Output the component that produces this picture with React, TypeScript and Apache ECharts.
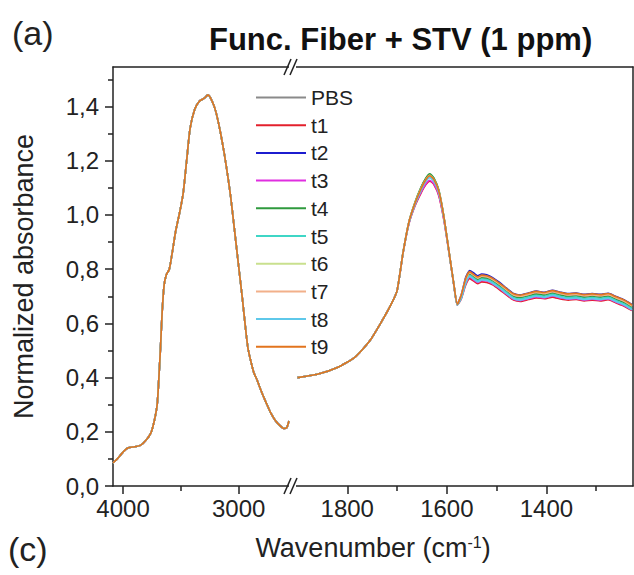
import React, { useEffect, useRef } from "react";
import * as echarts from "echarts";

const FONT = "'Liberation Sans', Arial, sans-serif";

const seriesNames = ["PBS", "t1", "t2", "t3", "t4", "t5", "t6", "t7", "t8", "t9"];
const seriesColors = ["#8a8a8a", "#e3202c", "#1c1ccf", "#e02ee0", "#2f9a3e", "#3fd6c6", "#c9e08e", "#f2b08a", "#5ec8ea", "#e2741e"];

// high-wavenumber panel (all runs overlap)
const leftWn = [4087, 4050, 4000, 3960, 3900, 3850, 3800, 3760, 3730, 3705, 3690, 3675, 3662, 3645, 3625, 3600, 3575, 3545, 3510, 3480, 3450, 3420, 3380, 3340, 3300, 3265, 3230, 3200, 3165, 3130, 3100, 3070, 3040, 3000, 2970, 2940, 2920, 2900, 2870, 2840, 2800, 2760, 2720, 2680, 2640, 2610, 2585, 2565];
const leftAbs = [0.085, 0.1, 0.125, 0.14, 0.145, 0.15, 0.17, 0.195, 0.24, 0.3, 0.4, 0.52, 0.64, 0.74, 0.78, 0.8, 0.86, 0.94, 1.01, 1.08, 1.2, 1.32, 1.39, 1.42, 1.43, 1.443, 1.42, 1.385, 1.32, 1.24, 1.16, 1.07, 0.96, 0.81, 0.7, 0.58, 0.51, 0.47, 0.42, 0.39, 0.345, 0.305, 0.268, 0.24, 0.222, 0.212, 0.215, 0.24];

// fingerprint panel
const rightWn = [1900, 1860, 1820, 1785, 1755, 1730, 1712, 1700, 1688, 1676, 1664, 1652, 1642, 1634, 1626, 1616, 1606, 1596, 1586, 1579, 1571, 1562, 1554, 1546, 1538, 1530, 1520, 1508, 1494, 1480, 1466, 1452, 1436, 1420, 1404, 1388, 1372, 1356, 1340, 1324, 1308, 1292, 1276, 1260, 1244, 1228];
const rPBS = [0.400,0.412,0.437,0.475,0.535,0.610,0.670,0.720,0.860,0.975,1.045,1.100,1.135,1.150,1.135,1.090,0.995,0.870,0.745,0.670,0.700,0.760,0.785,0.775,0.765,0.772,0.770,0.760,0.742,0.722,0.703,0.698,0.705,0.712,0.708,0.715,0.708,0.703,0.705,0.700,0.703,0.700,0.704,0.692,0.680,0.662];
const rT1 = [0.400,0.412,0.437,0.475,0.535,0.610,0.670,0.720,0.858,0.968,1.033,1.080,1.112,1.125,1.112,1.070,0.982,0.865,0.742,0.668,0.690,0.742,0.765,0.756,0.746,0.753,0.751,0.742,0.724,0.704,0.686,0.681,0.688,0.694,0.691,0.697,0.690,0.686,0.688,0.683,0.686,0.683,0.687,0.675,0.663,0.647];
const rT2 = [0.400,0.412,0.437,0.475,0.535,0.610,0.670,0.720,0.860,0.973,1.041,1.094,1.128,1.142,1.128,1.085,0.992,0.869,0.746,0.672,0.706,0.770,0.795,0.786,0.776,0.782,0.779,0.769,0.751,0.730,0.710,0.705,0.712,0.719,0.715,0.722,0.715,0.710,0.712,0.707,0.710,0.707,0.711,0.699,0.687,0.669];
const rT3 = [0.400,0.412,0.437,0.475,0.535,0.610,0.670,0.720,0.858,0.969,1.035,1.083,1.115,1.128,1.115,1.073,0.984,0.866,0.743,0.668,0.693,0.747,0.771,0.761,0.751,0.758,0.756,0.746,0.728,0.708,0.689,0.684,0.691,0.698,0.694,0.701,0.694,0.689,0.691,0.686,0.689,0.686,0.690,0.678,0.666,0.649];
const rT4 = [0.400,0.412,0.437,0.475,0.535,0.610,0.670,0.720,0.861,0.976,1.047,1.102,1.137,1.152,1.137,1.092,0.996,0.870,0.745,0.669,0.698,0.756,0.781,0.771,0.761,0.768,0.766,0.756,0.738,0.718,0.699,0.694,0.701,0.708,0.704,0.711,0.704,0.699,0.701,0.696,0.699,0.696,0.700,0.688,0.676,0.658];
const rT5 = [0.400,0.412,0.437,0.475,0.535,0.610,0.670,0.720,0.859,0.972,1.040,1.092,1.126,1.140,1.126,1.083,0.990,0.868,0.744,0.669,0.695,0.752,0.777,0.767,0.757,0.764,0.762,0.752,0.734,0.714,0.695,0.690,0.697,0.704,0.700,0.707,0.700,0.695,0.697,0.692,0.695,0.692,0.696,0.684,0.672,0.655];
const rT6 = [0.400,0.412,0.437,0.475,0.535,0.610,0.670,0.720,0.860,0.974,1.043,1.097,1.131,1.146,1.131,1.087,0.994,0.870,0.746,0.671,0.703,0.764,0.789,0.779,0.769,0.776,0.774,0.764,0.746,0.726,0.707,0.702,0.709,0.716,0.712,0.719,0.712,0.707,0.709,0.704,0.707,0.704,0.708,0.696,0.684,0.666];
const rT7 = [0.400,0.412,0.437,0.475,0.535,0.610,0.670,0.720,0.860,0.974,1.042,1.096,1.130,1.144,1.130,1.086,0.993,0.869,0.745,0.670,0.702,0.762,0.787,0.777,0.767,0.774,0.772,0.762,0.744,0.724,0.705,0.700,0.707,0.714,0.710,0.717,0.710,0.705,0.707,0.702,0.705,0.702,0.706,0.694,0.682,0.664];
const rT8 = [0.400,0.412,0.437,0.475,0.535,0.610,0.670,0.720,0.859,0.971,1.039,1.090,1.124,1.138,1.124,1.081,0.989,0.867,0.744,0.668,0.692,0.748,0.773,0.763,0.753,0.760,0.758,0.748,0.730,0.710,0.691,0.686,0.693,0.700,0.696,0.703,0.696,0.691,0.693,0.688,0.691,0.688,0.692,0.680,0.668,0.650];
const rT9 = [0.400,0.412,0.437,0.475,0.535,0.610,0.670,0.720,0.860,0.974,1.043,1.096,1.131,1.145,1.131,1.087,0.994,0.870,0.746,0.671,0.704,0.766,0.791,0.781,0.771,0.778,0.776,0.766,0.748,0.728,0.709,0.704,0.711,0.718,0.714,0.721,0.714,0.709,0.711,0.706,0.709,0.706,0.710,0.698,0.686,0.668];
const rightSets = [rPBS, rT1, rT2, rT3, rT4, rT5, rT6, rT7, rT8, rT9];

const leftMajorTicks = [3000, 4000];
const leftMinorTicks = [3500];
const rightMajorTicks = [1400, 1600, 1800];
const rightMinorTicks = [1300, 1500, 1700];
const yMajorTicks = [0, 0.2, 0.4, 0.6, 0.8, 1.0, 1.2, 1.4];
const yMinorTicks = [0.1, 0.3, 0.5, 0.7, 0.9, 1.1, 1.3, 1.5];

const LEFT_MIN = 2530, LEFT_MAX = 4087;
const RIGHT_MIN = 1226, RIGHT_MAX = 1909;
const Y_MIN = 0, Y_MAX = 1.546;
const AXIS_COLOR = "#222";

export default function App() {
  const ref = useRef<HTMLDivElement>(null);
  useEffect(() => {
    if (!ref.current) return;
    const chart = echarts.init(ref.current, null, { renderer: "svg" });
    const lineAxis = { show: true, lineStyle: { color: AXIS_COLOR, width: 1.5 } };
    const xBase = (gridIndex: number, min: number, max: number) => ({
      type: "value", gridIndex, min, max, inverse: true, splitLine: { show: false },
    });
    const xLabel = (vals: number[]) => ({ show: true, customValues: vals, fontSize: 24, fontFamily: FONT, color: "#222", margin: 10,
      formatter: (v: number) => String(Math.round(v)) });
    const xAxes = [
      { ...xBase(0, LEFT_MIN, LEFT_MAX), position: "bottom", axisLine: lineAxis,
        axisTick: { show: true, customValues: leftMajorTicks, length: 8, lineStyle: { color: AXIS_COLOR, width: 1.5 } },
        axisLabel: xLabel(leftMajorTicks) },
      { ...xBase(0, LEFT_MIN, LEFT_MAX), position: "bottom", axisLine: { show: false },
        axisTick: { show: true, customValues: leftMinorTicks, length: 5, lineStyle: { color: AXIS_COLOR, width: 1.5 } },
        axisLabel: { show: false } },
      { ...xBase(0, LEFT_MIN, LEFT_MAX), position: "top", axisLine: lineAxis, axisTick: { show: false }, axisLabel: { show: false } },
      { ...xBase(1, RIGHT_MIN, RIGHT_MAX), position: "bottom", axisLine: lineAxis,
        axisTick: { show: true, customValues: rightMajorTicks, length: 8, lineStyle: { color: AXIS_COLOR, width: 1.5 } },
        axisLabel: xLabel(rightMajorTicks) },
      { ...xBase(1, RIGHT_MIN, RIGHT_MAX), position: "bottom", axisLine: { show: false },
        axisTick: { show: true, customValues: rightMinorTicks, length: 5, lineStyle: { color: AXIS_COLOR, width: 1.5 } },
        axisLabel: { show: false } },
      { ...xBase(1, RIGHT_MIN, RIGHT_MAX), position: "top", axisLine: lineAxis, axisTick: { show: false }, axisLabel: { show: false } },
    ];
    const yAxes = [
      { type: "value", gridIndex: 0, min: Y_MIN, max: Y_MAX, position: "left", axisLine: lineAxis, splitLine: { show: false },
        axisTick: { show: true, customValues: yMajorTicks, length: 8, lineStyle: { color: AXIS_COLOR, width: 1.5 } },
        axisLabel: { show: true, customValues: yMajorTicks, fontSize: 24, fontFamily: FONT, color: "#222", margin: 14,
          formatter: (v: number) => v.toFixed(1).replace(".", ",") },
        name: "Normalized absorbance", nameLocation: "middle", nameGap: 76,
        nameTextStyle: { fontSize: 27, fontFamily: FONT, color: "#222" } },
      { type: "value", gridIndex: 0, min: Y_MIN, max: Y_MAX, position: "left", axisLine: { show: false }, splitLine: { show: false },
        axisTick: { show: true, customValues: yMinorTicks, length: 5, lineStyle: { color: AXIS_COLOR, width: 1.5 } },
        axisLabel: { show: false } },
      { type: "value", gridIndex: 1, min: Y_MIN, max: Y_MAX, position: "right", axisLine: lineAxis, splitLine: { show: false },
        axisTick: { show: false }, axisLabel: { show: false } },
    ];
    const series: any[] = [];
    seriesNames.forEach((name, i) => {
      series.push({
        name, type: "line", xAxisIndex: 0, yAxisIndex: 0, symbol: "none", silent: true, smooth: 0.25,
        lineStyle: { width: 1.6, color: seriesColors[i] }, itemStyle: { color: seriesColors[i] },
        data: leftWn.map((w, k) => [w, leftAbs[k]]),
      });
    });
    seriesNames.forEach((name, i) => {
      series.push({
        name, type: "line", xAxisIndex: 3, yAxisIndex: 2, symbol: "none", silent: true, smooth: 0.2,
        lineStyle: { width: 1.6, color: seriesColors[i] }, itemStyle: { color: seriesColors[i] },
        data: rightWn.map((w, k) => [w, rightSets[i][k]]),
      });
    });
    const breakMark = (yc: number) => [
      { type: "rect", z: 100, shape: { x: 289, y: yc - 5, width: 7, height: 10 }, style: { fill: "#fff" } },
      { type: "line", z: 101, shape: { x1: 284, y1: yc + 8, x2: 291, y2: yc - 8 }, style: { stroke: AXIS_COLOR, lineWidth: 1.5 } },
      { type: "line", z: 101, shape: { x1: 290, y1: yc + 8, x2: 297, y2: yc - 8 }, style: { stroke: AXIS_COLOR, lineWidth: 1.5 } },
    ];
    chart.setOption({
      animation: false,
      backgroundColor: "#fff",
      title: { text: "Func. Fiber + STV (1 ppm)", left: 204, top: 19,
        textStyle: { fontFamily: FONT, fontSize: 31, fontWeight: "bold", color: "#111" } },
      legend: { orient: "vertical", left: 251, top: 82, itemWidth: 50, itemHeight: 2, itemGap: 6.7, icon: "rect",
        data: seriesNames, selectedMode: false,
        textStyle: { fontFamily: FONT, fontSize: 21, lineHeight: 20, color: "#222" } },
      grid: [
        { left: 113, top: 67, width: 180, height: 419 },
        { left: 293, top: 67, width: 340, height: 419 },
      ],
      xAxis: xAxes,
      yAxis: yAxes,
      series,
      graphic: [
        ...breakMark(486),
        ...breakMark(67),
        { type: "text", z: 100, x: 373, y: 548, style: { text: "Wavenumber (cm{sup|-1})", fontFamily: FONT, fontSize: 27, fill: "#222",
            align: "center", verticalAlign: "middle",
            rich: { sup: { fontSize: 16, fontFamily: FONT, fill: "#222", verticalAlign: "top", lineHeight: 16 } } } },
        { type: "text", z: 100, x: 12, y: 16, style: { text: "(a)", fontFamily: FONT, fontSize: 34, fill: "#222" } },
        { type: "text", z: 100, x: 8, y: 532, style: { text: "(c)", fontFamily: FONT, fontSize: 34, fill: "#222" } },
      ],
    });
    return () => chart.dispose();
  }, []);
  return <div ref={ref} style={{ position: "fixed", left: 0, top: 0, width: 634, height: 575, background: "#fff" }} />;
}
